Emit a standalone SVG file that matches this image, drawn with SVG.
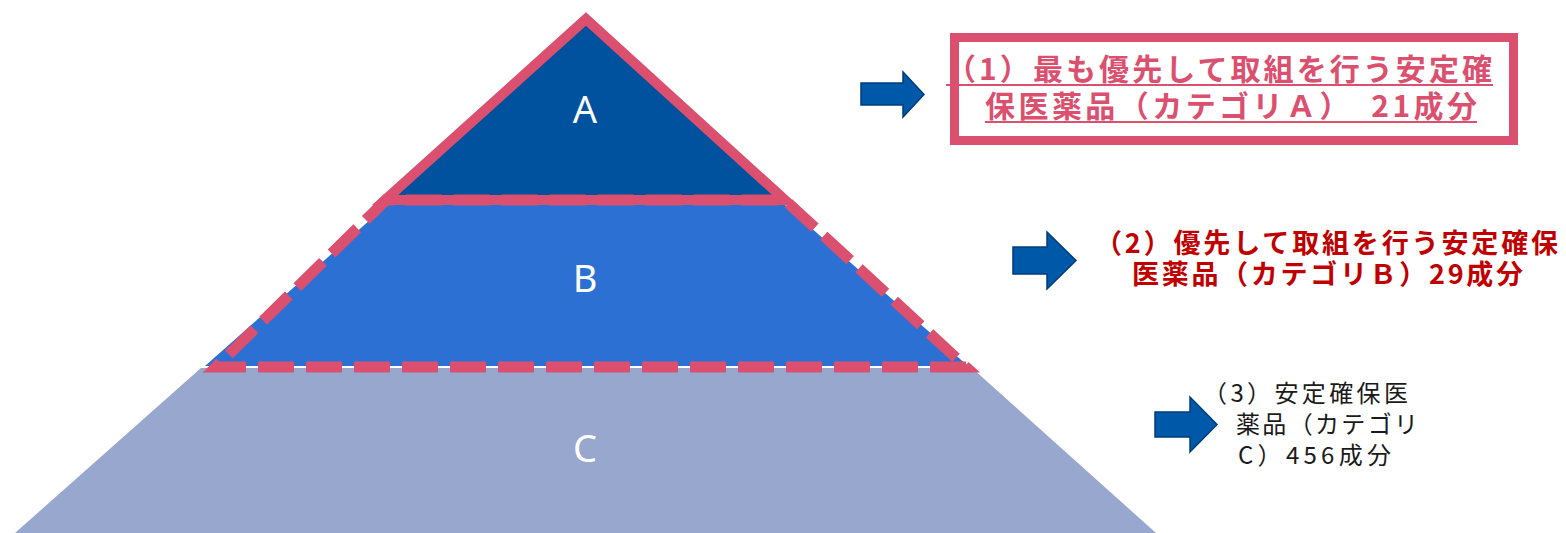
<svg xmlns="http://www.w3.org/2000/svg" width="1566" height="533" viewBox="0 0 1566 533">
<style>
.lbl{font-family:"Noto Sans","DejaVu Sans",sans-serif;font-size:38px;fill:#ffffff;text-anchor:middle}
.jp{font-family:"Noto Sans CJK JP","Noto Sans",sans-serif}
.t1{font-size:30px;font-weight:bold;fill:#DB4F6F}
.t2{font-size:27px;font-weight:bold;fill:#C00000}
.t3{font-size:24px;fill:#1a1a1a}
.arrow{fill:#0058A8;stroke:#003D7A;stroke-width:1.5;stroke-linejoin:miter}
.pink{fill:none;stroke:#DB4F6F}
</style>
<rect width="1566" height="533" fill="#ffffff"/>
<g id="layerC">
<polygon points="201,368 972,368 1156,533 15,533" fill="#97A7CD"/>
<text class="lbl" x="585" y="462">C</text>
</g>
<g id="layerB">
<polygon points="388,204 784,204 968,366 205,366" fill="#2D70D4"/>
<text class="lbl" x="585" y="292">B</text>
</g>
<g id="layerA">
<polygon points="586,22 392,200 780,200" fill="#00529F"/>
<text class="lbl" x="585" y="123">A</text>
</g>
<g id="highlights">
<path class="pink" d="M 966 367 L 216 367 L 386 200 L 785 200 Z" stroke-width="11" stroke-dasharray="36 12"/>
<polygon class="pink" points="586,19 385,200 785,200" stroke-width="10" stroke-linejoin="miter"/>
</g>
<g id="connectors">
<polygon class="arrow" points="861,83 903,83 903,72 924,94.5 903,117 903,105 861,105"/>
<polygon class="arrow" points="1013,247 1047,247 1047,232 1076,260.5 1047,289 1047,274 1013,274"/>
<polygon class="arrow" points="1155,412 1190,412 1190,397 1217,424.5 1190,452 1190,437 1155,437"/>
</g>
<g id="label1">
<rect x="954.5" y="37.5" width="559" height="103" fill="none" stroke="#DB4F6F" stroke-width="9"/>
<text class="jp t1" x="946" y="80" textLength="546" lengthAdjust="spacing">（1）最も優先して取組を行う安定確</text>
<line x1="946" y1="85" x2="1493" y2="85" stroke="#DB4F6F" stroke-width="2"/>
<text class="jp t1" x="985" y="117" textLength="492" lengthAdjust="spacing">保医薬品（カテゴリＡ）　21成分</text>
<line x1="985" y1="122" x2="1477" y2="122" stroke="#DB4F6F" stroke-width="2"/>
</g>
<g id="label2">
<text class="jp t2" x="1095" y="253" textLength="463" lengthAdjust="spacing">（2）優先して取組を行う安定確保</text>
<text class="jp t2" x="1132" y="284" textLength="391" lengthAdjust="spacing">医薬品（カテゴリＢ）29成分</text>
</g>
<g id="label3">
<text class="jp t3" x="1203" y="402" textLength="205" lengthAdjust="spacing">（3）安定確保医</text>
<text class="jp t3" x="1236" y="433" textLength="182" lengthAdjust="spacing">薬品（カテゴリ</text>
<text class="jp t3" x="1238" y="464" textLength="153" lengthAdjust="spacing">C）456成分</text>
</g>
</svg>
